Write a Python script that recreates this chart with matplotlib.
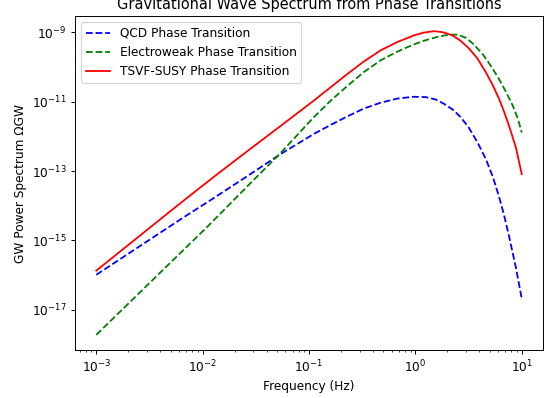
import numpy as np
import matplotlib
matplotlib.use("Agg")
import matplotlib.pyplot as plt

# QCD transition: frequency (Hz) and log10 Omega_GW
qcd_freq = [0.001, 0.00621, 0.0127, 0.0265, 0.0541, 0.111, 0.160, 0.231, 0.327, 0.472,
            0.682, 0.966, 1.25, 1.56, 1.85, 2.25, 2.67, 3.18, 3.86, 4.59, 5.35, 6.09,
            6.79, 7.57, 8.81, 10.0]
qcd_log = [-15.99, -14.39, -13.78, -13.14, -12.51, -11.93, -11.67, -11.42, -11.20, -11.03,
           -10.91, -10.86, -10.87, -10.94, -11.06, -11.23, -11.45, -11.75, -12.19, -12.65,
           -13.17, -13.72, -14.25, -14.86, -15.78, -16.68]

# electroweak transition
ew_freq = [0.001, 0.0107, 0.0183, 0.0265, 0.0541, 0.110, 0.160, 0.231, 0.327, 0.472,
           0.655, 0.813, 1.01, 1.25, 1.63, 2.06, 2.51, 2.98, 3.54, 4.31, 5.12, 6.09,
           7.08, 8.24, 9.19, 10.0]
ew_log = [-17.72, -14.65, -13.93, -13.43, -12.48, -11.46, -10.97, -10.54, -10.15, -9.81,
          -9.58, -9.45, -9.33, -9.23, -9.13, -9.07, -9.07, -9.16, -9.35, -9.64,
          -9.97, -10.34, -10.71, -11.12, -11.49, -11.89]

# TSVF-SUSY transition
tsvf_freq = [0.001, 0.00621, 0.0127, 0.0265, 0.0541, 0.111, 0.230, 0.329, 0.473, 0.679,
             0.973, 1.20, 1.50, 1.81, 2.23, 2.67, 3.20, 3.84, 4.59, 5.31, 6.12, 6.82,
             7.60, 8.81, 10.0]
tsvf_log = [-15.87, -13.92, -13.17, -12.42, -11.70, -10.97, -10.20, -9.84, -9.52, -9.28,
            -9.09, -9.01, -8.97, -9.00, -9.09, -9.25, -9.47, -9.76, -10.15, -10.51,
            -10.92, -11.29, -11.70, -12.32, -13.09]

fig = plt.figure(figsize=(557 / 87, 398 / 87), dpi=87)
fig.subplots_adjust(left=0.1347, right=0.9749, bottom=0.1206, top=0.9598)
ax = fig.add_subplot(111)

ax.loglog(qcd_freq, 10.0 ** np.array(qcd_log), 'b--', label='QCD Phase Transition')
ax.loglog(ew_freq, 10.0 ** np.array(ew_log), 'g--', label='Electroweak Phase Transition')
ax.loglog(tsvf_freq, 10.0 ** np.array(tsvf_log), 'r-', label='TSVF-SUSY Phase Transition')

ax.set_title('Gravitational Wave Spectrum from Phase Transitions')
ax.set_xlabel('Frequency (Hz)')
ax.set_ylabel('GW Power Spectrum ΩGW')
ax.legend(loc='upper left')

fig.savefig('out.png', dpi=87)
